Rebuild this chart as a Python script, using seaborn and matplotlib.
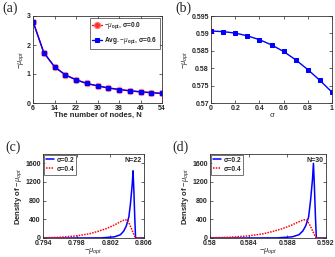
import matplotlib
matplotlib.use("Agg")
import matplotlib.pyplot as plt
import seaborn as sns
import pandas as pd
import numpy as np

# ---------------- data ----------------
nodes_N = [6, 10, 14, 18, 22, 26, 30, 34, 38, 42, 46, 50, 54]
mu_sigma0 = [2.81, 1.74, 1.25, 0.97, 0.80, 0.675, 0.59, 0.52, 0.465, 0.42, 0.385, 0.355, 0.33]
mu_sigma06 = [2.81, 1.74, 1.25, 0.97, 0.80, 0.675, 0.59, 0.52, 0.465, 0.42, 0.385, 0.355, 0.33]

sigma_vals = [0.0, 0.1, 0.2, 0.3, 0.4, 0.5, 0.6, 0.7, 0.8, 0.9, 1.0]
mu_vs_sigma = [0.5907, 0.5905, 0.5901, 0.5893, 0.5882, 0.5867, 0.5848, 0.5824, 0.5796, 0.5765, 0.5731]

# panel (c): N=22 densities
c_x_s02 = [0.7940, 0.7980, 0.8010, 0.8025, 0.8032, 0.8036, 0.8039, 0.8042, 0.8044, 0.8046, 0.8047, 0.8048, 0.8049, 0.8050, 0.8060]
c_y_s02 = [0, 0, 3, 25, 70, 150, 260, 450, 750, 1150, 1440, 1000, 450, 0, 0]
c_x_s04 = [0.7940, 0.7960, 0.7980, 0.7995, 0.8005, 0.8015, 0.8025, 0.8032, 0.8037, 0.8040, 0.8043, 0.8046, 0.8048, 0.8050, 0.8060]
c_y_s04 = [5, 15, 45, 90, 140, 200, 280, 350, 390, 385, 290, 160, 70, 0, 0]

# panel (d): N=30 densities
d_x_s02 = [0.5800, 0.5840, 0.5870, 0.5885, 0.5892, 0.5896, 0.5899, 0.5902, 0.5904, 0.5906, 0.5907, 0.5908, 0.5909, 0.5910, 0.5920]
d_y_s02 = [0, 0, 3, 25, 70, 150, 260, 450, 800, 1250, 1600, 1100, 500, 0, 0]
d_x_s04 = [0.5800, 0.5820, 0.5840, 0.5855, 0.5865, 0.5875, 0.5885, 0.5892, 0.5897, 0.5900, 0.5903, 0.5906, 0.5908, 0.5910, 0.5920]
d_y_s04 = [5, 15, 45, 90, 140, 200, 280, 350, 390, 385, 290, 160, 70, 0, 0]

# ---------------- style ----------------
sns.set_theme(style="ticks")
plt.rcParams['font.family'] = ['Liberation Sans', 'DejaVu Sans']
plt.rcParams['mathtext.fontset'] = 'custom'
plt.rcParams['mathtext.rm'] = 'Liberation Sans'
plt.rcParams['mathtext.it'] = 'Liberation Sans:italic'
plt.rcParams['mathtext.bf'] = 'Liberation Sans:bold'

W, H = 335, 257
fig = plt.figure(figsize=(W / 100, H / 100), dpi=100)


def box(l, t, r, b):
    return [l / W, 1 - b / H, (r - l) / W, (b - t) / H]


axa = fig.add_axes(box(33, 16, 162, 103))
axb = fig.add_axes(box(211, 16, 332, 103))
axc = fig.add_axes(box(43, 154, 144, 238))
axd = fig.add_axes(box(210, 154, 326, 238))

tfs = 5.0
for ax in (axa, axb, axc, axd):
    ax.tick_params(direction='in', length=2, width=0.5, labelsize=tfs, pad=1.5,
                   top=True, right=True)
    for s in ax.spines.values():
        s.set_linewidth(0.6)
        s.set_color('#333333')

BLUE = '#0000ff'
RED = '#ff0000'

# (a)
dfa = pd.DataFrame({'N': nodes_N, 's0': mu_sigma0, 's06': mu_sigma06})
sns.lineplot(data=dfa, x='N', y='s0', ax=axa, color=RED, lw=1.0, marker='o',
             markersize=4.5, markerfacecolor='#ff3030', markeredgecolor='#ff8080',
             markeredgewidth=0.8, label=r'$-\mu_{\mathbf{opt}}$, σ=0.0')
sns.lineplot(data=dfa, x='N', y='s06', ax=axa, color=BLUE, lw=1.0, marker='s',
             markersize=3.2, markerfacecolor=BLUE, markeredgecolor=BLUE,
             label=r'Avg. $-\mu_{\mathbf{opt}}$, σ=0.6')
axa.set_xlim(6, 54)
axa.set_ylim(0, 3)
axa.set_xticks([6, 14, 22, 30, 38, 46, 54])
axa.set_yticks([0, 1, 2, 3])
axa.set_xlabel('The number of nodes, N', fontsize=5.5, fontweight='bold', labelpad=0)
axa.set_ylabel(r'$-\mu_{opt}$', fontsize=5.5, labelpad=1)
leg = axa.legend(loc='upper right', fontsize=4.7, frameon=True, fancybox=False,
                 handlelength=1.5, borderpad=0.4, labelspacing=0.6,
                 handletextpad=0.3, borderaxespad=0.3)
leg.get_frame().set_edgecolor('#333333')
leg.get_frame().set_linewidth(0.6)
for t in leg.get_texts():
    t.set_fontweight('bold')

# (b)
dfb = pd.DataFrame({'sigma': sigma_vals, 'mu': mu_vs_sigma})
sns.lineplot(data=dfb, x='sigma', y='mu', ax=axb, color=BLUE, lw=1.0, marker='s',
             markersize=3.2, markerfacecolor=BLUE, markeredgecolor=BLUE)
axb.set_xlim(0, 1)
axb.set_ylim(0.57, 0.595)
axb.set_xticks([0, 0.2, 0.4, 0.6, 0.8, 1])
axb.set_xticklabels(['0', '0.2', '0.4', '0.6', '0.8', '1'])
axb.set_yticks([0.57, 0.575, 0.58, 0.585, 0.59, 0.595])
axb.set_yticklabels(['0.57', '0.575', '0.58', '0.585', '0.59', '0.595'])
axb.set_xlabel('σ', fontsize=5.5, labelpad=0)
axb.set_ylabel(r'$-\mu_{opt}$', fontsize=5.5, labelpad=1)


def density_panel(ax, x2, y2, x4, y4, xlim, xticks, xtl, ntext):
    d2 = pd.DataFrame({'x': x2, 'y': y2})
    d4 = pd.DataFrame({'x': x4, 'y': y4})
    sns.lineplot(data=d2, x='x', y='y', ax=ax, color=BLUE, lw=1.1, label='σ=0.2',
                 estimator=None, sort=False)
    sns.lineplot(data=d4, x='x', y='y', ax=ax, color=RED, lw=1.1, ls=(0, (1, 0.8)),
                 label='σ=0.4', estimator=None, sort=False)
    ax.set_xlim(*xlim)
    ax.set_ylim(0, 1800)
    ax.set_xticks(xticks)
    ax.set_xticklabels(xtl)
    ax.set_yticks([0, 400, 800, 1200, 1600])
    ax.set_xlabel(r'$-\mu_{opt}$', fontsize=5.5, labelpad=-0.5)
    ax.set_ylabel(r'Density of $-\mu_{opt}$', fontsize=5.5, fontweight='bold', labelpad=1)
    lg = ax.legend(loc='upper left', fontsize=4.8, frameon=True, fancybox=False,
                   handlelength=1.3, borderpad=0.3, labelspacing=0.3,
                   handletextpad=0.3, borderaxespad=0.1)
    lg.get_frame().set_edgecolor('#333333')
    lg.get_frame().set_linewidth(0.6)
    for t in lg.get_texts():
        t.set_fontweight('bold')
    ax.text(0.98, 0.96, ntext, transform=ax.transAxes, ha='right', va='top',
            fontsize=5.0, fontweight='bold')


density_panel(axc, c_x_s02, c_y_s02, c_x_s04, c_y_s04, (0.794, 0.806),
              [0.794, 0.798, 0.802, 0.806], ['0.794', '0.798', '0.802', '0.806'], 'N=22')
density_panel(axd, d_x_s02, d_y_s02, d_x_s04, d_y_s04, (0.580, 0.592),
              [0.580, 0.584, 0.588, 0.592], ['0.58', '0.584', '0.588', '0.592'], 'N=30')

for ax in (axa, axb, axc, axd):
    for lab in ax.get_xticklabels() + ax.get_yticklabels():
        lab.set_fontweight('bold')

# panel labels
pl = dict(fontsize=10, family=['Liberation Serif', 'DejaVu Serif'], ha='left', va='top')
fig.text(2 / W, 1 - 2 / H, '(a)', **pl)
fig.text(175 / W, 1 - 2 / H, '(b)', **pl)
fig.text(5 / W, 1 - 141 / H, '(c)', **pl)
fig.text(172 / W, 1 - 141 / H, '(d)', **pl)

fig.savefig('out.png', dpi=100)
